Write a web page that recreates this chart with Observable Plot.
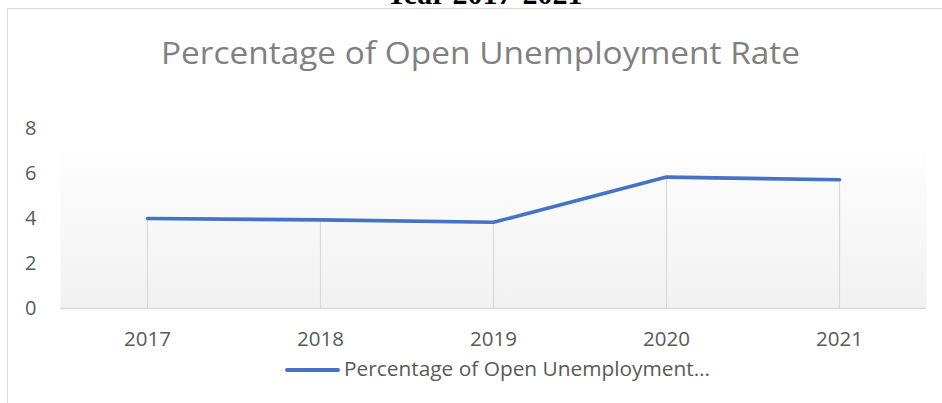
<!DOCTYPE html>
<html>
<head>
<meta charset="utf-8">
<script src="https://cdn.jsdelivr.net/npm/d3@7"></script>
<script src="https://cdn.jsdelivr.net/npm/@observablehq/plot@0.6"></script>
<style>
  html, body { margin: 0; padding: 0; background: #fff; }
  #wrap { position: relative; width: 942px; height: 403px; overflow: hidden; font-family: "Open Sans", sans-serif; }
  #frame { position: absolute; left: 7px; top: 8px; width: 960px; height: 420px; border-left: 1.5px solid #d9d9d9; border-top: 1.5px solid #d9d9d9; box-sizing: border-box; }
  #chart { position: absolute; left: 0; top: 0; }
  #overlay { position: absolute; left: 0; top: 0; pointer-events: none; }
</style>
</head>
<body>
<div id="wrap">
  <div id="frame"></div>
  <div id="chart"></div>
  <svg id="overlay" width="942" height="403"></svg>
</div>
<script>
const years = ["2017", "2018", "2019", "2020", "2021"];
const rates = [4.00, 3.94, 3.83, 5.84, 5.72];
const yTicks = [0, 2, 4, 6, 8];
const pageHeading = "Year 2017-2021";
const chartTitle = "Percentage of Open Unemployment Rate";
const legendLabel = "Percentage of Open Unemployment…";

const data = years.map((y, i) => ({year: y, rate: rates[i]}));

const plot = Plot.plot({
  width: 942,
  height: 403,
  marginLeft: 60,
  marginRight: 16,
  marginTop: 128,
  marginBottom: 95,
  style: {background: "transparent", fontFamily: "'Open Sans', sans-serif", fontSize: "20px", color: "#595959"},
  x: {type: "point", domain: years, padding: 0.5, label: null},
  y: {domain: [0, 8], label: null},
  marks: [
    () => {
      const ns = "http://www.w3.org/2000/svg";
      const defs = document.createElementNS(ns, "defs");
      defs.innerHTML = `<linearGradient id="bg" x1="0" y1="0" x2="0" y2="1">
        <stop offset="0" stop-color="#ffffff"/>
        <stop offset="0.13" stop-color="#ffffff"/>
        <stop offset="0.135" stop-color="#fdfdfd"/>
        <stop offset="1" stop-color="#f1f1f1"/>
      </linearGradient>`;
      return defs;
    },
    Plot.frame({fill: "url(#bg)", stroke: null}),
    Plot.ruleX(data, {x: "year", y1: 0, y2: "rate", stroke: "#d9d9d9", strokeWidth: 1.2}),
    Plot.ruleY([0], {stroke: "#d9d9d9", strokeWidth: 1.5}),
    Plot.axisY({ticks: yTicks, tickSize: 0, tickPadding: 24, fontSize: 20, fill: "#595959"}),
    Plot.axisX({tickSize: 0, tickPadding: 23, fontSize: 20.5, fill: "#595959"}),
    Plot.line(data, {x: "year", y: "rate", stroke: "#4472C4", strokeWidth: 3.6, strokeLinecap: "round", strokeLinejoin: "round"})
  ]
});
document.getElementById("chart").appendChild(plot);

const ov = d3.select("#overlay");
ov.append("text")
  .attr("x", 484).attr("y", 4)
  .attr("text-anchor", "middle")
  .attr("font-family", "'Liberation Serif', 'Times New Roman', serif")
  .attr("font-weight", "bold")
  .attr("font-size", 30)
  .attr("fill", "#000")
  .text(pageHeading);
ov.append("text")
  .attr("x", 161).attr("y", 64)
  .attr("font-family", "'Open Sans', sans-serif")
  .attr("font-weight", 400)
  .attr("font-size", 31)
  .attr("textLength", 639)
  .attr("lengthAdjust", "spacingAndGlyphs")
  .attr("fill", "#808080")
  .text(chartTitle);
ov.append("line")
  .attr("x1", 287).attr("x2", 338).attr("y1", 370).attr("y2", 370)
  .attr("stroke", "#4472C4").attr("stroke-width", 4).attr("stroke-linecap", "round");
ov.append("text")
  .attr("x", 344).attr("y", 376)
  .attr("font-family", "'Open Sans', sans-serif")
  .attr("font-size", 20)
  .attr("textLength", 366)
  .attr("lengthAdjust", "spacingAndGlyphs")
  .attr("fill", "#595959")
  .text(legendLabel);
</script>
</body>
</html>
